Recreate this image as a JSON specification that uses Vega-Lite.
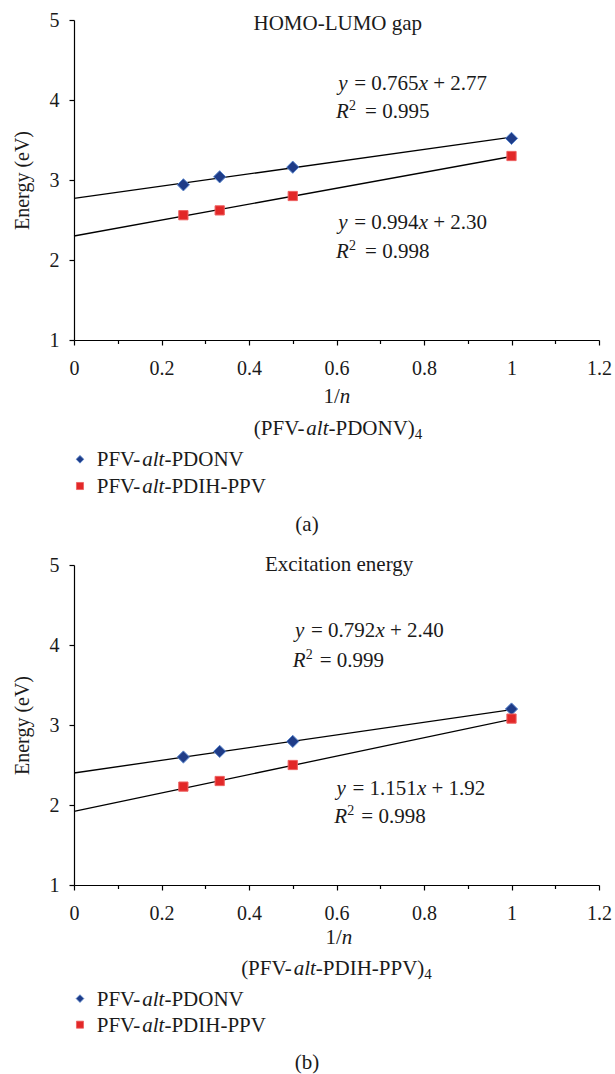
{
  "$schema": "https://vega.github.io/schema/vega-lite/v6.json",
  "padding": {"left": 12, "top": 10, "right": 5, "bottom": 5},
  "spacing": 17,
  "datasets": {
    "a_pts": [
      {"series": "PFV-alt-PDONV", "inv_n": 0.25, "energy": 2.94},
      {"series": "PFV-alt-PDONV", "inv_n": 0.333, "energy": 3.04},
      {"series": "PFV-alt-PDONV", "inv_n": 0.5, "energy": 3.16},
      {"series": "PFV-alt-PDONV", "inv_n": 1.0, "energy": 3.52},
      {"series": "PFV-alt-PDIH-PPV", "inv_n": 0.25, "energy": 2.56},
      {"series": "PFV-alt-PDIH-PPV", "inv_n": 0.333, "energy": 2.62},
      {"series": "PFV-alt-PDIH-PPV", "inv_n": 0.5, "energy": 2.80},
      {"series": "PFV-alt-PDIH-PPV", "inv_n": 1.0, "energy": 3.30}
    ],
    "a_fit": [
      {"series": "PFV-alt-PDONV", "inv_n": 0, "energy": 2.77},
      {"series": "PFV-alt-PDONV", "inv_n": 1, "energy": 3.535},
      {"series": "PFV-alt-PDIH-PPV", "inv_n": 0, "energy": 2.30},
      {"series": "PFV-alt-PDIH-PPV", "inv_n": 1, "energy": 3.294}
    ],
    "b_pts": [
      {"series": "PFV-alt-PDONV", "inv_n": 0.25, "energy": 2.60},
      {"series": "PFV-alt-PDONV", "inv_n": 0.333, "energy": 2.67},
      {"series": "PFV-alt-PDONV", "inv_n": 0.5, "energy": 2.795},
      {"series": "PFV-alt-PDONV", "inv_n": 1.0, "energy": 3.20},
      {"series": "PFV-alt-PDIH-PPV", "inv_n": 0.25, "energy": 2.23},
      {"series": "PFV-alt-PDIH-PPV", "inv_n": 0.333, "energy": 2.30},
      {"series": "PFV-alt-PDIH-PPV", "inv_n": 0.5, "energy": 2.50},
      {"series": "PFV-alt-PDIH-PPV", "inv_n": 1.0, "energy": 3.08}
    ],
    "b_fit": [
      {"series": "PFV-alt-PDONV", "inv_n": 0, "energy": 2.40},
      {"series": "PFV-alt-PDONV", "inv_n": 1, "energy": 3.192},
      {"series": "PFV-alt-PDIH-PPV", "inv_n": 0, "energy": 1.92},
      {"series": "PFV-alt-PDIH-PPV", "inv_n": 1, "energy": 3.071}
    ]
  },
  "vconcat": [
    {
      "width": 525,
      "height": 320,
      "layer": [
        {
          "data": {"name": "a_fit"},
          "mark": {"type": "line", "color": "#000000", "strokeWidth": 1.3},
          "encoding": {
            "x": {"field": "inv_n", "type": "quantitative", "scale": {"domain": [0, 1.2]},
              "axis": {"values": [0, 0.1, 0.2, 0.3, 0.4, 0.5, 0.6, 0.7, 0.8, 0.9, 1.0, 1.1, 1.2], "format": "~g",
                "labelExpr": "round(datum.value*10)%2==0 ? datum.label : ''", "title": null,
                "tickSize": {"condition": {"test": "round(datum.value*10)%2==0", "value": 5}, "value": 3.5},
                "labelPadding": 13, "labelFlush": false, "labelOverlap": false}},
            "y": {"field": "energy", "type": "quantitative", "scale": {"domain": [1, 5]},
              "axis": {"values": [1, 1.5, 2, 2.5, 3, 3.5, 4, 4.5, 5], "format": "~g",
                "labelExpr": "datum.value%1==0 ? datum.label : ''", "title": "Energy (eV)",
                "tickSize": {"condition": {"test": "datum.value%1==0", "value": 5}, "value": 3.5},
                "labelPadding": 10, "titlePadding": 17, "labelOverlap": false}},
            "detail": {"field": "series", "type": "nominal"}
          }
        },
        {
          "data": {"name": "a_pts"},
          "mark": {"type": "point", "filled": true, "opacity": 1, "strokeWidth": 1},
          "encoding": {
            "x": {"field": "inv_n", "type": "quantitative"},
            "y": {"field": "energy", "type": "quantitative"},
            "color": {"field": "series", "type": "nominal", "legend": null,
              "scale": {"domain": ["PFV-alt-PDONV", "PFV-alt-PDIH-PPV"], "range": ["#1F3C88", "#E22828"]}},
            "stroke": {"field": "series", "type": "nominal", "legend": null,
              "scale": {"domain": ["PFV-alt-PDONV", "PFV-alt-PDIH-PPV"], "range": ["#5A86CC", "#EE6060"]}},
            "shape": {"field": "series", "type": "nominal", "legend": null,
              "scale": {"domain": ["PFV-alt-PDONV", "PFV-alt-PDIH-PPV"], "range": ["diamond", "square"]}},
            "size": {"field": "series", "type": "nominal", "legend": null,
              "scale": {"domain": ["PFV-alt-PDONV", "PFV-alt-PDIH-PPV"], "range": [150, 85]}}
          }
        },
        {
          "data": {"values": [{}]},
          "layer": [
            {"mark": {"type": "text", "align": "center"}, "encoding": {"x": {"datum": 0.603, "type": "quantitative"}, "y": {"datum": 4.875, "type": "quantitative"}, "text": {"value": "HOMO-LUMO gap"}}},
            {"mark": {"type": "text", "fontStyle": "italic", "dx": 0}, "encoding": {"x": {"datum": 0.604, "type": "quantitative"}, "y": {"datum": 4.121, "type": "quantitative"}, "text": {"value": "y"}}},
            {"mark": {"type": "text", "dx": 16}, "encoding": {"x": {"datum": 0.604, "type": "quantitative"}, "y": {"datum": 4.121, "type": "quantitative"}, "text": {"value": "= 0.765"}}},
            {"mark": {"type": "text", "fontStyle": "italic", "dx": 80.5}, "encoding": {"x": {"datum": 0.604, "type": "quantitative"}, "y": {"datum": 4.121, "type": "quantitative"}, "text": {"value": "x"}}},
            {"mark": {"type": "text", "dx": 95}, "encoding": {"x": {"datum": 0.604, "type": "quantitative"}, "y": {"datum": 4.121, "type": "quantitative"}, "text": {"value": "+ 2.77"}}},
            {"mark": {"type": "text", "fontStyle": "italic", "dx": 0}, "encoding": {"x": {"datum": 0.599, "type": "quantitative"}, "y": {"datum": 3.78, "type": "quantitative"}, "text": {"value": "R"}}},
            {"mark": {"type": "text", "dx": 13, "dy": -8, "fontSize": 14}, "encoding": {"x": {"datum": 0.599, "type": "quantitative"}, "y": {"datum": 3.78, "type": "quantitative"}, "text": {"value": "2"}}},
            {"mark": {"type": "text", "dx": 29}, "encoding": {"x": {"datum": 0.599, "type": "quantitative"}, "y": {"datum": 3.78, "type": "quantitative"}, "text": {"value": "= 0.995"}}},
            {"mark": {"type": "text", "fontStyle": "italic", "dx": 0}, "encoding": {"x": {"datum": 0.604, "type": "quantitative"}, "y": {"datum": 2.384, "type": "quantitative"}, "text": {"value": "y"}}},
            {"mark": {"type": "text", "dx": 16}, "encoding": {"x": {"datum": 0.604, "type": "quantitative"}, "y": {"datum": 2.384, "type": "quantitative"}, "text": {"value": "= 0.994"}}},
            {"mark": {"type": "text", "fontStyle": "italic", "dx": 80.5}, "encoding": {"x": {"datum": 0.604, "type": "quantitative"}, "y": {"datum": 2.384, "type": "quantitative"}, "text": {"value": "x"}}},
            {"mark": {"type": "text", "dx": 95}, "encoding": {"x": {"datum": 0.604, "type": "quantitative"}, "y": {"datum": 2.384, "type": "quantitative"}, "text": {"value": "+ 2.30"}}},
            {"mark": {"type": "text", "fontStyle": "italic", "dx": 0}, "encoding": {"x": {"datum": 0.599, "type": "quantitative"}, "y": {"datum": 2.02, "type": "quantitative"}, "text": {"value": "R"}}},
            {"mark": {"type": "text", "dx": 13, "dy": -8, "fontSize": 14}, "encoding": {"x": {"datum": 0.599, "type": "quantitative"}, "y": {"datum": 2.02, "type": "quantitative"}, "text": {"value": "2"}}},
            {"mark": {"type": "text", "dx": 29}, "encoding": {"x": {"datum": 0.599, "type": "quantitative"}, "y": {"datum": 2.02, "type": "quantitative"}, "text": {"value": "= 0.998"}}},
            {"mark": {"type": "text", "dx": 0}, "encoding": {"x": {"datum": 0.57, "type": "quantitative"}, "y": {"datum": 0.2125, "type": "quantitative"}, "text": {"value": "1/"}}},
            {"mark": {"type": "text", "fontStyle": "italic", "dx": 16.3}, "encoding": {"x": {"datum": 0.57, "type": "quantitative"}, "y": {"datum": 0.2125, "type": "quantitative"}, "text": {"value": "n"}}},
            {"mark": {"type": "text", "dx": 0}, "encoding": {"x": {"datum": 0.411, "type": "quantitative"}, "y": {"datum": -0.191, "type": "quantitative"}, "text": {"value": "(PFV-"}}},
            {"mark": {"type": "text", "fontStyle": "italic", "dx": 52.5}, "encoding": {"x": {"datum": 0.411, "type": "quantitative"}, "y": {"datum": -0.191, "type": "quantitative"}, "text": {"value": "alt"}}},
            {"mark": {"type": "text", "dx": 74.7}, "encoding": {"x": {"datum": 0.411, "type": "quantitative"}, "y": {"datum": -0.191, "type": "quantitative"}, "text": {"value": "-PDONV)"}}},
            {"mark": {"type": "text", "dx": 161, "dy": 4, "fontSize": 15}, "encoding": {"x": {"datum": 0.411, "type": "quantitative"}, "y": {"datum": -0.191, "type": "quantitative"}, "text": {"value": "4"}}},
            {"mark": {"type": "point", "filled": true, "opacity": 1, "size": 60, "strokeWidth": 0.8}, "encoding": {"x": {"datum": 0.0137, "type": "quantitative"}, "y": {"datum": -0.491, "type": "quantitative"}, "color": {"datum": "PFV-alt-PDONV"}, "stroke": {"datum": "PFV-alt-PDONV"}, "shape": {"datum": "PFV-alt-PDONV"}}},
            {"mark": {"type": "point", "filled": true, "opacity": 1, "size": 50, "strokeWidth": 0.8}, "encoding": {"x": {"datum": 0.0137, "type": "quantitative"}, "y": {"datum": -0.825, "type": "quantitative"}, "color": {"datum": "PFV-alt-PDIH-PPV"}, "stroke": {"datum": "PFV-alt-PDIH-PPV"}, "shape": {"datum": "PFV-alt-PDIH-PPV"}}},
            {"mark": {"type": "text", "dx": 0}, "encoding": {"x": {"datum": 0.0519, "type": "quantitative"}, "y": {"datum": -0.579, "type": "quantitative"}, "text": {"value": "PFV-"}}},
            {"mark": {"type": "text", "fontStyle": "italic", "dx": 45.5}, "encoding": {"x": {"datum": 0.0519, "type": "quantitative"}, "y": {"datum": -0.579, "type": "quantitative"}, "text": {"value": "alt"}}},
            {"mark": {"type": "text", "dx": 67.7}, "encoding": {"x": {"datum": 0.0519, "type": "quantitative"}, "y": {"datum": -0.579, "type": "quantitative"}, "text": {"value": "-PDONV"}}},
            {"mark": {"type": "text", "dx": 0}, "encoding": {"x": {"datum": 0.0519, "type": "quantitative"}, "y": {"datum": -0.9125, "type": "quantitative"}, "text": {"value": "PFV-"}}},
            {"mark": {"type": "text", "fontStyle": "italic", "dx": 45.5}, "encoding": {"x": {"datum": 0.0519, "type": "quantitative"}, "y": {"datum": -0.9125, "type": "quantitative"}, "text": {"value": "alt"}}},
            {"mark": {"type": "text", "dx": 67.7}, "encoding": {"x": {"datum": 0.0519, "type": "quantitative"}, "y": {"datum": -0.9125, "type": "quantitative"}, "text": {"value": "-PDIH-PPV"}}},
            {"mark": {"type": "text", "align": "center"}, "encoding": {"x": {"datum": 0.5326, "type": "quantitative"}, "y": {"datum": -1.39, "type": "quantitative"}, "text": {"value": "(a)"}}}
          ]
        }
      ]
    },
    {
      "width": 525,
      "height": 320,
      "layer": [
        {
          "data": {"name": "b_fit"},
          "mark": {"type": "line", "color": "#000000", "strokeWidth": 1.3},
          "encoding": {
            "x": {"field": "inv_n", "type": "quantitative", "scale": {"domain": [0, 1.2]},
              "axis": {"values": [0, 0.1, 0.2, 0.3, 0.4, 0.5, 0.6, 0.7, 0.8, 0.9, 1.0, 1.1, 1.2], "format": "~g",
                "labelExpr": "round(datum.value*10)%2==0 ? datum.label : ''", "title": null,
                "tickSize": {"condition": {"test": "round(datum.value*10)%2==0", "value": 5}, "value": 3.5},
                "labelPadding": 13, "labelFlush": false, "labelOverlap": false}},
            "y": {"field": "energy", "type": "quantitative", "scale": {"domain": [1, 5]},
              "axis": {"values": [1, 1.5, 2, 2.5, 3, 3.5, 4, 4.5, 5], "format": "~g",
                "labelExpr": "datum.value%1==0 ? datum.label : ''", "title": "Energy (eV)",
                "tickSize": {"condition": {"test": "datum.value%1==0", "value": 5}, "value": 3.5},
                "labelPadding": 10, "titlePadding": 17, "labelOverlap": false}},
            "detail": {"field": "series", "type": "nominal"}
          }
        },
        {
          "data": {"name": "b_pts"},
          "mark": {"type": "point", "filled": true, "opacity": 1, "strokeWidth": 1},
          "encoding": {
            "x": {"field": "inv_n", "type": "quantitative"},
            "y": {"field": "energy", "type": "quantitative"},
            "color": {"field": "series", "type": "nominal", "legend": null,
              "scale": {"domain": ["PFV-alt-PDONV", "PFV-alt-PDIH-PPV"], "range": ["#1F3C88", "#E22828"]}},
            "stroke": {"field": "series", "type": "nominal", "legend": null,
              "scale": {"domain": ["PFV-alt-PDONV", "PFV-alt-PDIH-PPV"], "range": ["#5A86CC", "#EE6060"]}},
            "shape": {"field": "series", "type": "nominal", "legend": null,
              "scale": {"domain": ["PFV-alt-PDONV", "PFV-alt-PDIH-PPV"], "range": ["diamond", "square"]}},
            "size": {"field": "series", "type": "nominal", "legend": null,
              "scale": {"domain": ["PFV-alt-PDONV", "PFV-alt-PDIH-PPV"], "range": [150, 85]}}
          }
        },
        {
          "data": {"values": [{}]},
          "layer": [
            {"mark": {"type": "text", "align": "center"}, "encoding": {"x": {"datum": 0.606, "type": "quantitative"}, "y": {"datum": 4.93, "type": "quantitative"}, "text": {"value": "Excitation energy"}}},
            {"mark": {"type": "text", "fontStyle": "italic", "dx": 0}, "encoding": {"x": {"datum": 0.505, "type": "quantitative"}, "y": {"datum": 4.104, "type": "quantitative"}, "text": {"value": "y"}}},
            {"mark": {"type": "text", "dx": 16}, "encoding": {"x": {"datum": 0.505, "type": "quantitative"}, "y": {"datum": 4.104, "type": "quantitative"}, "text": {"value": "= 0.792"}}},
            {"mark": {"type": "text", "fontStyle": "italic", "dx": 80.5}, "encoding": {"x": {"datum": 0.505, "type": "quantitative"}, "y": {"datum": 4.104, "type": "quantitative"}, "text": {"value": "x"}}},
            {"mark": {"type": "text", "dx": 95}, "encoding": {"x": {"datum": 0.505, "type": "quantitative"}, "y": {"datum": 4.104, "type": "quantitative"}, "text": {"value": "+ 2.40"}}},
            {"mark": {"type": "text", "fontStyle": "italic", "dx": 0}, "encoding": {"x": {"datum": 0.5, "type": "quantitative"}, "y": {"datum": 3.729, "type": "quantitative"}, "text": {"value": "R"}}},
            {"mark": {"type": "text", "dx": 13, "dy": -8, "fontSize": 14}, "encoding": {"x": {"datum": 0.5, "type": "quantitative"}, "y": {"datum": 3.729, "type": "quantitative"}, "text": {"value": "2"}}},
            {"mark": {"type": "text", "dx": 27}, "encoding": {"x": {"datum": 0.5, "type": "quantitative"}, "y": {"datum": 3.729, "type": "quantitative"}, "text": {"value": "= 0.999"}}},
            {"mark": {"type": "text", "fontStyle": "italic", "dx": 0}, "encoding": {"x": {"datum": 0.6, "type": "quantitative"}, "y": {"datum": 2.125, "type": "quantitative"}, "text": {"value": "y"}}},
            {"mark": {"type": "text", "dx": 16}, "encoding": {"x": {"datum": 0.6, "type": "quantitative"}, "y": {"datum": 2.125, "type": "quantitative"}, "text": {"value": "= 1.151"}}},
            {"mark": {"type": "text", "fontStyle": "italic", "dx": 80.5}, "encoding": {"x": {"datum": 0.6, "type": "quantitative"}, "y": {"datum": 2.125, "type": "quantitative"}, "text": {"value": "x"}}},
            {"mark": {"type": "text", "dx": 95}, "encoding": {"x": {"datum": 0.6, "type": "quantitative"}, "y": {"datum": 2.125, "type": "quantitative"}, "text": {"value": "+ 1.92"}}},
            {"mark": {"type": "text", "fontStyle": "italic", "dx": 0}, "encoding": {"x": {"datum": 0.595, "type": "quantitative"}, "y": {"datum": 1.775, "type": "quantitative"}, "text": {"value": "R"}}},
            {"mark": {"type": "text", "dx": 13, "dy": -8, "fontSize": 14}, "encoding": {"x": {"datum": 0.595, "type": "quantitative"}, "y": {"datum": 1.775, "type": "quantitative"}, "text": {"value": "2"}}},
            {"mark": {"type": "text", "dx": 27}, "encoding": {"x": {"datum": 0.595, "type": "quantitative"}, "y": {"datum": 1.775, "type": "quantitative"}, "text": {"value": "= 0.998"}}},
            {"mark": {"type": "text", "dx": 0}, "encoding": {"x": {"datum": 0.575, "type": "quantitative"}, "y": {"datum": 0.26, "type": "quantitative"}, "text": {"value": "1/"}}},
            {"mark": {"type": "text", "fontStyle": "italic", "dx": 16.3}, "encoding": {"x": {"datum": 0.575, "type": "quantitative"}, "y": {"datum": 0.26, "type": "quantitative"}, "text": {"value": "n"}}},
            {"mark": {"type": "text", "dx": 0}, "encoding": {"x": {"datum": 0.382, "type": "quantitative"}, "y": {"datum": -0.13, "type": "quantitative"}, "text": {"value": "(PFV-"}}},
            {"mark": {"type": "text", "fontStyle": "italic", "dx": 52.5}, "encoding": {"x": {"datum": 0.382, "type": "quantitative"}, "y": {"datum": -0.13, "type": "quantitative"}, "text": {"value": "alt"}}},
            {"mark": {"type": "text", "dx": 74.7}, "encoding": {"x": {"datum": 0.382, "type": "quantitative"}, "y": {"datum": -0.13, "type": "quantitative"}, "text": {"value": "-PDIH-PPV)"}}},
            {"mark": {"type": "text", "dx": 183.2, "dy": 4, "fontSize": 15}, "encoding": {"x": {"datum": 0.382, "type": "quantitative"}, "y": {"datum": -0.13, "type": "quantitative"}, "text": {"value": "4"}}},
            {"mark": {"type": "point", "filled": true, "opacity": 1, "size": 60, "strokeWidth": 0.8}, "encoding": {"x": {"datum": 0.0137, "type": "quantitative"}, "y": {"datum": -0.42, "type": "quantitative"}, "color": {"datum": "PFV-alt-PDONV"}, "stroke": {"datum": "PFV-alt-PDONV"}, "shape": {"datum": "PFV-alt-PDONV"}}},
            {"mark": {"type": "point", "filled": true, "opacity": 1, "size": 50, "strokeWidth": 0.8}, "encoding": {"x": {"datum": 0.0137, "type": "quantitative"}, "y": {"datum": -0.746, "type": "quantitative"}, "color": {"datum": "PFV-alt-PDIH-PPV"}, "stroke": {"datum": "PFV-alt-PDIH-PPV"}, "shape": {"datum": "PFV-alt-PDIH-PPV"}}},
            {"mark": {"type": "text", "dx": 0}, "encoding": {"x": {"datum": 0.0519, "type": "quantitative"}, "y": {"datum": -0.509, "type": "quantitative"}, "text": {"value": "PFV-"}}},
            {"mark": {"type": "text", "fontStyle": "italic", "dx": 45.5}, "encoding": {"x": {"datum": 0.0519, "type": "quantitative"}, "y": {"datum": -0.509, "type": "quantitative"}, "text": {"value": "alt"}}},
            {"mark": {"type": "text", "dx": 67.7}, "encoding": {"x": {"datum": 0.0519, "type": "quantitative"}, "y": {"datum": -0.509, "type": "quantitative"}, "text": {"value": "-PDONV"}}},
            {"mark": {"type": "text", "dx": 0}, "encoding": {"x": {"datum": 0.0519, "type": "quantitative"}, "y": {"datum": -0.834, "type": "quantitative"}, "text": {"value": "PFV-"}}},
            {"mark": {"type": "text", "fontStyle": "italic", "dx": 45.5}, "encoding": {"x": {"datum": 0.0519, "type": "quantitative"}, "y": {"datum": -0.834, "type": "quantitative"}, "text": {"value": "alt"}}},
            {"mark": {"type": "text", "dx": 67.7}, "encoding": {"x": {"datum": 0.0519, "type": "quantitative"}, "y": {"datum": -0.834, "type": "quantitative"}, "text": {"value": "-PDIH-PPV"}}},
            {"mark": {"type": "text", "align": "center"}, "encoding": {"x": {"datum": 0.5326, "type": "quantitative"}, "y": {"datum": -1.3, "type": "quantitative"}, "text": {"value": "(b)"}}}
          ]
        }
      ]
    }
  ],
  "config": {
    "view": {"stroke": null},
    "font": "Liberation Serif",
    "text": {"font": "Liberation Serif", "fontSize": 21, "align": "left", "baseline": "alphabetic", "color": "#1A1A1A"},
    "axis": {
      "domainColor": "#000000", "domainWidth": 1.2, "tickColor": "#000000", "tickWidth": 1.2, "grid": false,
      "labelFont": "Liberation Serif", "labelFontSize": 20, "labelColor": "#1A1A1A",
      "titleFont": "Liberation Serif", "titleFontSize": 20, "titleFontWeight": "normal", "titleColor": "#1A1A1A"
    }
  }
}
